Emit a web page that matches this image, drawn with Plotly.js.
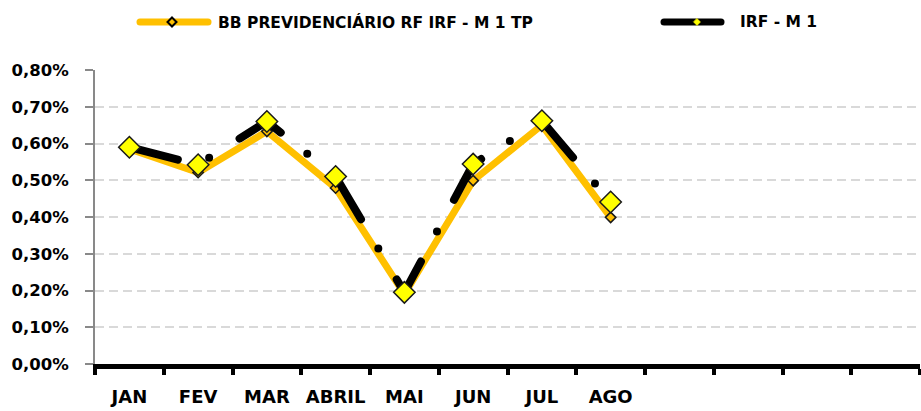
<!DOCTYPE html>
<html><head><meta charset="utf-8">
<script src="https://cdn.plot.ly/plotly-3.0.1.min.js"></script>
<style>
html,body{margin:0;padding:0;background:#fff;}
#chart{width:921px;height:411px;}
.scatterlayer path.js-line{stroke-linecap:round !important;stroke-linejoin:round !important;}
.shapelayer path{stroke-linecap:round;}
</style></head><body><div id="chart"></div>
<script>
// ---- data ----
const months = ['JAN','FEV','MAR','ABRIL','MAI','JUN','JUL','AGO'];
const axisCategories = ['JAN','FEV','MAR','ABRIL','MAI','JUN','JUL','AGO','SET','OUT','NOV','DEZ'];
const axisLabels = ['JAN','FEV','MAR','ABRIL','MAI','JUN','JUL','AGO','','','',''];
const bbFund = [0.585, 0.521, 0.633, 0.479, 0.190, 0.499, 0.650, 0.399];
const irfM1  = [0.590, 0.542, 0.660, 0.510, 0.195, 0.544, 0.662, 0.441];
const yTicks = [0, 0.1, 0.2, 0.3, 0.4, 0.5, 0.6, 0.7, 0.8];
const yTickLabels = ['0,00%','0,10%','0,20%','0,30%','0,40%','0,50%','0,60%','0,70%','0,80%'];
const seriesNames = ['BB PREVIDENCIÁRIO RF IRF - M 1 TP', 'IRF - M 1'];

// ---- layout geometry ----
const W = 921, H = 411, ML = 95, MR = 1, MT = 70, MB = 47;
const PW = W - ML - MR, PH = H - MT - MB;
const px = x => (x - ML) / PW;
const py = y => (H - MB - y) / PH;
const FONT = 'DejaVu Sans';

const orange = '#FFC000', yellow = '#FFFF00';

const traces = [
  {
    x: months, y: bbFund, name: seriesNames[0], type: 'scatter', mode: 'lines+markers',
    line: {color: orange, width: 7},
    marker: {symbol: 'diamond', size: 8, color: orange, line: {color: '#1a1a1a', width: 1.5}},
    cliponaxis: false, hoverinfo: 'skip'
  },
  {
    x: months, y: irfM1, name: seriesNames[1], type: 'scatter', mode: 'lines+markers',
    line: {color: '#000000', width: 8, dash: '50px,34px,0px,36px'},
    marker: {symbol: 'diamond', size: 16.5, color: yellow, line: {color: '#1a1a1a', width: 1.5}},
    cliponaxis: false, hoverinfo: 'skip'
  }
];

// custom legend (line + diamond symbol + text)
function diamond(cx, cy, r) {
  return `M${px(cx)},${py(cy - r)} L${px(cx + r)},${py(cy)} L${px(cx)},${py(cy + r)} L${px(cx - r)},${py(cy)} Z`;
}
const legY = 22;
const shapes = [
  {type: 'line', xref: 'paper', yref: 'paper', x0: px(140), x1: px(208), y0: py(legY), y1: py(legY), line: {color: orange, width: 7}},
  {type: 'path', xref: 'paper', yref: 'paper', path: diamond(172, legY, 4.5), fillcolor: orange, line: {color: '#000', width: 2}},
  {type: 'line', xref: 'paper', yref: 'paper', x0: px(664), x1: px(721), y0: py(legY), y1: py(legY), line: {color: '#000', width: 7}},
  {type: 'path', xref: 'paper', yref: 'paper', path: diamond(697, legY, 3.5), fillcolor: yellow, line: {color: yellow, width: 0.5}}
];
const annotations = [
  {xref: 'paper', yref: 'paper', x: px(216), y: py(legY), xanchor: 'left', yanchor: 'middle', showarrow: false,
   text: seriesNames[0], font: {family: FONT, size: 15.5, weight: 700, color: '#000'}},
  {xref: 'paper', yref: 'paper', x: px(738), y: py(legY), xanchor: 'left', yanchor: 'middle', showarrow: false,
   text: seriesNames[1], font: {family: FONT, size: 15.5, weight: 700, color: '#000'}}
];

const layout = {
  width: W, height: H,
  margin: {l: ML, r: MR, t: MT, b: MB, pad: 0},
  paper_bgcolor: '#fff', plot_bgcolor: '#fff',
  showlegend: false,
  xaxis: {
    type: 'category', categoryorder: 'array', categoryarray: axisCategories,
    tickmode: 'array', tickvals: axisCategories, ticktext: axisLabels,
    range: [-0.5, 11.5], tickson: 'boundaries', tickangle: 0,
    showgrid: false, zeroline: false,
    showline: true, linecolor: '#000', linewidth: 5,
    ticks: 'outside', ticklen: 6, tickwidth: 4, tickcolor: '#000',
    ticklabelstandoff: 12,
    tickfont: {family: FONT, size: 18, weight: 700, color: '#000'},
    fixedrange: true
  },
  yaxis: {
    range: [0, 0.8], tickmode: 'array', tickvals: yTicks, ticktext: yTickLabels,
    showgrid: true, gridcolor: '#D9D9D9', gridwidth: 2, griddash: '9px,5px',
    zeroline: false,
    showline: true, linecolor: '#898989', linewidth: 2,
    ticks: 'outside', ticklen: 8, tickwidth: 2, tickcolor: '#898989',
    ticklabelstandoff: 13,
    tickfont: {family: FONT, size: 16.5, weight: 700, color: '#000'},
    fixedrange: true
  },
  shapes: shapes,
  annotations: annotations
};

Plotly.newPlot('chart', traces, layout, {displayModeBar: false, staticPlot: true});
</script></body></html>
